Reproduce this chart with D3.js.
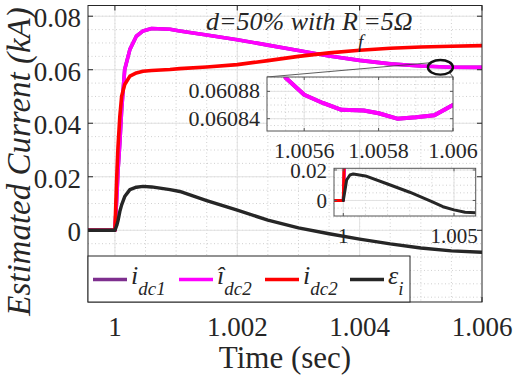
<!DOCTYPE html>
<html><head><meta charset="utf-8">
<script src="https://cdn.jsdelivr.net/npm/d3@7"></script>
<style>
body{margin:0;background:#fff}
</style>
</head><body>
<svg id="c" width="515" height="379"></svg>
<script>
// ---------- data ----------
const mainTime = [0.99956, 0.9999, 1.0, 1.00003, 1.00005, 1.00008, 1.00011, 1.00016, 1.000245, 1.00035, 1.00046, 1.0006, 1.0009, 1.00106, 1.0015, 1.002, 1.0025, 1.003, 1.0035, 1.004, 1.0045, 1.005, 1.0055, 1.006];
const idc2hat = [0, 0, 0, 0.012, 0.022, 0.0326, 0.0451, 0.0601, 0.0676, 0.0725, 0.0745, 0.0754, 0.0751, 0.0745, 0.0730, 0.0712, 0.0692, 0.0672, 0.0651, 0.0635, 0.0622, 0.0614, 0.0609, 0.06086];
const idc1 = [0, 0, 0, 0.012, 0.022, 0.0326, 0.0451, 0.0601, 0.0676, 0.0725, 0.0745, 0.0754, 0.0751, 0.0745, 0.0730, 0.0712, 0.0692, 0.0672, 0.0651, 0.0635, 0.0622, 0.0614, 0.0609, 0.06086];
const idc2 = [0, 0, 0, 0.020, 0.031, 0.0425, 0.0501, 0.0545, 0.0576, 0.0588, 0.0594, 0.0597, 0.0601, 0.0604, 0.0610, 0.0619, 0.0634, 0.0650, 0.0663, 0.0673, 0.0680, 0.0685, 0.0688, 0.0690];
const epsI = [0, 0, 0, 0.0018, 0.0035, 0.0070, 0.0095, 0.0126, 0.0152, 0.0161, 0.0164, 0.0162, 0.0152, 0.0145, 0.0111, 0.0075, 0.0038, 0.0009, -0.0013, -0.0033, -0.0051, -0.0066, -0.0077, -0.0082];

const zoomTime = [1.00555, 1.0056, 1.00565, 1.0057, 1.00576, 1.0058, 1.00585, 1.0059, 1.00595, 1.006];
const zoomIdc2hat = [0.06090, 0.060875, 0.060863, 0.060853, 0.060852, 0.060848, 0.06084, 0.060842, 0.060845, 0.06086];
const zoomIdc1 = [0.06090, 0.060875, 0.060863, 0.060853, 0.060852, 0.060848, 0.06084, 0.060842, 0.060845, 0.06086];

const inset2Time = [1.0, 1.00008, 1.00015, 1.0003, 1.00045, 1.001, 1.002, 1.003, 1.004, 1.0045, 1.005, 1.0055, 1.00598];
const inset2Eps = [0, 0.007, 0.0134, 0.0167, 0.0174, 0.0161, 0.0108, 0.0054, -0.0008, -0.0041, -0.0062, -0.0077, -0.008];

const xTicks = [1, 1.002, 1.004, 1.006];
const xTickLabels = ["1", "1.002", "1.004", "1.006"];
const yTicks = [0, 0.02, 0.04, 0.06, 0.08];
const yTickLabels = ["0", "0.02", "0.04", "0.06", "0.08"];
const zoomXTicks = [1.0056, 1.0058, 1.006];
const zoomXTickLabels = ["1.0056", "1.0058", "1.006"];
const zoomYTicks = [0.06084, 0.06088];
const zoomYTickLabels = ["0.06084", "0.06088"];
const inset2XTicks = [1, 1.005];
const inset2XTickLabels = ["1", "1.005"];
const inset2YTicks = [0, 0.02];
const inset2YTickLabels = ["0", "0.02"];

const legendMain = ["i", "i\u0302", "i", "\u03b5"];
const legendSub = ["dc1", "dc2", "dc2", "i"];

const colPurple = "#7E2F8E", colMag = "#FF00FF", colRed = "#FF0000", colBlack = "#262626";
const FONT = '"Liberation Serif"';

// ---------- helpers ----------
const svg = d3.select("#c");
function txt(sel) { return sel.append("text").style("font-family", FONT).attr("fill", colBlack); }
function stepRange(a, b, s) {
  const n = Math.round((b - a) / s);
  return d3.range(n + 1).map(i => +(a + i * s).toFixed(8));
}
let clipId = 0;
function panel(o) {
  const g = svg.append("g");
  const [x0, x1] = o.x.range(), [y1, y0] = o.y.range();
  g.append("rect").attr("x", x0).attr("y", y0).attr("width", x1 - x0).attr("height", y1 - y0).attr("fill", "#fff");
  const inX = v => { const p = o.x(v); return p > x0 + 0.5 && p < x1 - 0.5; };
  const inY = v => { const p = o.y(v); return p > y0 + 0.5 && p < y1 - 0.5; };
  g.selectAll(null).data(o.xMinor.filter(inX)).enter().append("line")
    .attr("x1", d => o.x(d)).attr("x2", d => o.x(d)).attr("y1", y0).attr("y2", y1)
    .attr("stroke", "#c4c4c4").attr("stroke-width", 0.8).attr("stroke-dasharray", "1,2.5");
  g.selectAll(null).data(o.yMinor.filter(inY)).enter().append("line")
    .attr("y1", d => o.y(d)).attr("y2", d => o.y(d)).attr("x1", x0).attr("x2", x1)
    .attr("stroke", "#c4c4c4").attr("stroke-width", 0.8).attr("stroke-dasharray", "1,2.5");
  g.selectAll(null).data(o.xTicks.filter(inX)).enter().append("line")
    .attr("x1", d => o.x(d)).attr("x2", d => o.x(d)).attr("y1", y0).attr("y2", y1)
    .attr("stroke", "#e2e2e2").attr("stroke-width", 1);
  g.selectAll(null).data(o.yTicks.filter(inY)).enter().append("line")
    .attr("y1", d => o.y(d)).attr("y2", d => o.y(d)).attr("x1", x0).attr("x2", x1)
    .attr("stroke", "#e2e2e2").attr("stroke-width", 1);
  const id = "clip" + (clipId++);
  g.append("clipPath").attr("id", id).append("rect").attr("x", x0).attr("y", y0).attr("width", x1 - x0).attr("height", y1 - y0);
  const lg = g.append("g").attr("clip-path", `url(#${id})`);
  o.series.forEach(s => {
    const line = d3.line().x((d, i) => o.x(s.t[i])).y(d => o.y(d));
    lg.append("path").attr("d", line(s.v)).attr("fill", "none").attr("stroke", s.c)
      .attr("stroke-width", s.w).attr("stroke-linejoin", "round").attr("stroke-linecap", "round");
  });
  const fc = o.frame || colBlack;
  g.append("rect").attr("x", x0).attr("y", y0).attr("width", x1 - x0).attr("height", y1 - y0)
    .attr("fill", "none").attr("stroke", fc).attr("stroke-width", 1);
  const tl = o.tickLen;
  o.xTicks.forEach(v => {
    const p = o.x(v);
    g.append("line").attr("x1", p).attr("x2", p).attr("y1", y1).attr("y2", y1 - tl).attr("stroke", fc);
    g.append("line").attr("x1", p).attr("x2", p).attr("y1", y0).attr("y2", y0 + tl).attr("stroke", fc);
  });
  o.yTicks.forEach(v => {
    const p = o.y(v);
    g.append("line").attr("y1", p).attr("y2", p).attr("x1", x0).attr("x2", x0 + tl).attr("stroke", fc);
    g.append("line").attr("y1", p).attr("y2", p).attr("x1", x1).attr("x2", x1 - tl).attr("stroke", fc);
  });
  o.xTicks.forEach((d, i) => {
    txt(g).attr("x", o.x(d)).attr("y", o.xLabelY).attr("text-anchor", "middle")
      .attr("font-size", o.fs).text(o.xTickLabels[i]);
  });
  o.yTicks.forEach((d, i) => {
    txt(g).attr("x", o.yLabelX).attr("y", o.y(d) + o.yLabelDy).attr("text-anchor", "end")
      .attr("font-size", o.fs).text(o.yTickLabels[i]);
  });
  return g;
}

// ---------- main axes ----------
const x = d3.scaleLinear().domain([0.99956, 1.006]).range([88, 482]);
const y = d3.scaleLinear().domain([-0.0268, 0.084]).range([302, 5.5]);
panel({
  x, y, xTicks, yTicks, xTickLabels, yTickLabels,
  xMinor: stepRange(0.9995, 1.006, 0.0005), yMinor: stepRange(-0.025, 0.08, 0.005),
  tickLen: 5, fs: 27, xLabelY: 336, yLabelX: 81, yLabelDy: 11,
  series: [
    { t: mainTime, v: idc1, c: colPurple, w: 3.6 },
    { t: mainTime, v: idc2hat, c: colMag, w: 3.6 },
    { t: mainTime, v: idc2, c: colRed, w: 3.6 },
    { t: mainTime, v: epsI, c: colBlack, w: 3.4 }
  ]
});

// axis titles
txt(svg).attr("x", 285).attr("y", 368).attr("text-anchor", "middle").attr("font-size", 31).text("Time (sec)");
txt(svg).attr("transform", "translate(30,161.5) rotate(-90)").attr("text-anchor", "middle")
  .attr("font-size", 33).attr("font-style", "italic").text("Estimated Current (kA)");

// title
const tt = txt(svg).attr("x", 206).attr("y", 29.5).attr("font-size", 26).attr("font-style", "italic");
tt.append("tspan").text("d=50% with R");
tt.append("tspan").attr("dy", 18).attr("font-size", 19).text("f");
tt.append("tspan").attr("dy", -18).text("=5\u03a9");

// ellipse marker and connectors
const ellT = 1.00532, ellV = 0.0609;
svg.append("line").attr("x1", 267).attr("y1", 77).attr("x2", x(ellT) - 11).attr("y2", y(ellV) - 4.5)
  .attr("stroke", "#333").attr("stroke-width", 0.8);
svg.append("line").attr("x1", 453).attr("y1", 77).attr("x2", x(ellT) + 9).attr("y2", y(ellV) + 5)
  .attr("stroke", "#333").attr("stroke-width", 0.8);
svg.append("ellipse").attr("cx", x(ellT)).attr("cy", y(ellV)).attr("rx", 12.5).attr("ry", 7.3)
  .attr("fill", "none").attr("stroke", "#111").attr("stroke-width", 2.4);

// ---------- inset 1 ----------
const xz = d3.scaleLinear().domain([1.0055, 1.006]).range([267, 453]);
const yz = d3.scaleLinear().domain([0.060822, 0.060901]).range([131, 77]);
panel({
  x: xz, y: yz, xTicks: zoomXTicks, yTicks: zoomYTicks, xTickLabels: zoomXTickLabels, yTickLabels: zoomYTickLabels,
  xMinor: stepRange(1.0055, 1.006, 0.00005), yMinor: stepRange(0.06083, 0.0609, 0.00001),
  tickLen: 3, fs: 22, xLabelY: 158, yLabelX: 260, yLabelDy: 7, frame: "#555",
  series: [
    { t: zoomTime, v: zoomIdc1, c: colPurple, w: 4 },
    { t: zoomTime, v: zoomIdc2hat, c: colMag, w: 4 }
  ]
});

// ---------- inset 2 ----------
const x2 = d3.scaleLinear().domain([0.99958, 1.00598]).range([334, 475.7]);
const y2 = d3.scaleLinear().domain([-0.0102, 0.0211]).range([216, 168.3]);
panel({
  x: x2, y: y2, xTicks: inset2XTicks, yTicks: inset2YTicks, xTickLabels: inset2XTickLabels, yTickLabels: inset2YTickLabels,
  xMinor: stepRange(0.999, 1.006, 0.001), yMinor: stepRange(-0.01, 0.02, 0.005),
  tickLen: 3, fs: 21, xLabelY: 243, yLabelX: 327, yLabelDy: 8, frame: "#555",
  series: [
    { t: mainTime, v: idc1, c: colPurple, w: 3 },
    { t: mainTime, v: idc2hat, c: colMag, w: 3 },
    { t: mainTime, v: idc2, c: colRed, w: 3 },
    { t: inset2Time, v: inset2Eps, c: colBlack, w: 3 }
  ]
});

// ---------- legend ----------
const lgX = 88, lgY = 256, lgW = 322, lgH = 46;
svg.append("rect").attr("x", lgX).attr("y", lgY).attr("width", lgW).attr("height", lgH)
  .attr("fill", "#fff").attr("stroke", colBlack).attr("stroke-width", 1);
const legendColors = [colPurple, colMag, colRed, colBlack];
const entryX = [93, 179, 265, 350];
legendMain.forEach((m, i) => {
  const ex = entryX[i];
  svg.append("line").attr("x1", ex).attr("x2", ex + 34).attr("y1", 279.5).attr("y2", 279.5)
    .attr("stroke", legendColors[i]).attr("stroke-width", 3.6);
  const t = txt(svg).attr("x", ex + 38).attr("y", 283.5).attr("font-size", 26).attr("font-style", "italic");
  t.append("tspan").text(m);
  t.append("tspan").attr("dy", 11.5).attr("font-size", 19).text(legendSub[i]);
});
</script>
</body></html>
